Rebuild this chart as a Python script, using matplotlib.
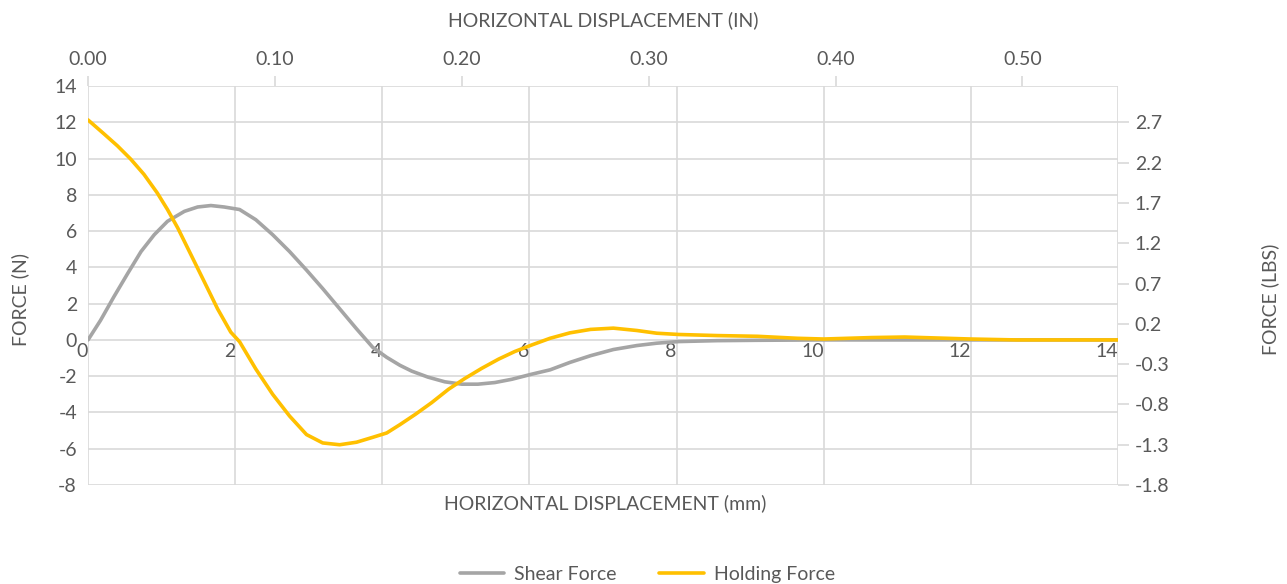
import matplotlib.pyplot as plt
import numpy as np

# values (displacement in mm, force in N)
shear_x = [0, 0.17, 0.35, 0.54, 0.72, 0.90, 1.08, 1.31, 1.49, 1.67, 1.85, 2.06,
           2.28, 2.51, 2.74, 2.97, 3.19, 3.42, 3.65, 3.87, 4.06, 4.24, 4.40,
           4.62, 4.85, 5.08, 5.30, 5.53, 5.76, 6.03, 6.28, 6.55, 6.83, 7.14,
           7.46, 7.73, 8.03, 8.55, 9.1, 10, 11, 12, 13, 14]
shear_y = [0, 1.08, 2.37, 3.67, 4.87, 5.8, 6.54, 7.09, 7.33, 7.41, 7.33, 7.19,
           6.63, 5.8, 4.87, 3.85, 2.83, 1.72, 0.61, -0.41, -0.96, -1.40, -1.72,
           -2.05, -2.31, -2.44, -2.44, -2.35, -2.17, -1.89, -1.65, -1.24, -0.87,
           -0.53, -0.31, -0.18, -0.09, -0.04, -0.02, 0, 0, 0, 0, 0]

hold_x = [0, 0.22, 0.40, 0.58, 0.76, 0.94, 1.08, 1.22, 1.40, 1.58, 1.76, 1.94,
          2.06, 2.28, 2.51, 2.74, 2.97, 3.19, 3.42, 3.65, 3.87, 4.06, 4.24,
          4.45, 4.67, 4.90, 5.12, 5.35, 5.58, 5.80, 6.03, 6.28, 6.55, 6.83,
          7.14, 7.46, 7.73, 8.03, 8.55, 9.1, 9.64, 10.0, 10.65, 11.1, 12.0,
          12.62, 14]
hold_y = [12.13, 11.35, 10.7, 9.97, 9.13, 8.11, 7.19, 6.17, 4.69, 3.21, 1.72,
          0.43, -0.1, -1.6, -3.0, -4.2, -5.22, -5.68, -5.78, -5.64,
          -5.37, -5.13, -4.67, -4.1, -3.46, -2.72, -2.13, -1.57, -1.06, -0.64,
          -0.28, 0.09, 0.39, 0.58, 0.65, 0.52, 0.37, 0.3, 0.24, 0.2, 0.09,
          0.05, 0.13, 0.16, 0.05, 0, 0]

mm_ticks = [0, 2, 4, 6, 8, 10, 12, 14]
in_ticks = [0.0, 0.1, 0.2, 0.3, 0.4, 0.5]
n_ticks = [14, 12, 10, 8, 6, 4, 2, 0, -2, -4, -6, -8]
lbs_ticks = [2.7, 2.2, 1.7, 1.2, 0.7, 0.2, -0.3, -0.8, -1.3, -1.8]

N_TO_LBS = 0.225
MM_PER_IN = 25.4

plt.rcParams['font.family'] = ['Lato', 'DejaVu Sans']
plt.rcParams['axes.unicode_minus'] = False
txt = '#595959'
grid_c = '#D9D9D9'

fig = plt.figure(figsize=(12.87, 5.84), dpi=100)
ax = fig.add_axes([0.0684, 0.1695, 0.8003, 0.6832])

ax.plot(shear_x, shear_y, color='#A5A5A5', lw=2.6, solid_capstyle='round',
        solid_joinstyle='round', label='Shear Force', zorder=3)
ax.plot(hold_x, hold_y, color='#FFC000', lw=2.6, solid_capstyle='round',
        solid_joinstyle='round', label='Holding Force', zorder=4)

ax.set_xlim(0, 14)
ax.set_ylim(-8, 14)
ax.set_xticks(mm_ticks)
ax.set_yticks(n_ticks)
ax.grid(True, color=grid_c, lw=1.2)
ax.set_axisbelow(True)
for s in ['top', 'right', 'left']:
    ax.spines[s].set_visible(False)
ax.spines['bottom'].set_position(('data', 0))
ax.spines['bottom'].set_visible(False)
ax.tick_params(axis='x', length=0, pad=2, labelsize=14, labelcolor=txt)
ax.tick_params(axis='y', length=0, pad=8, labelsize=14, labelcolor=txt)
for lbl in ax.get_xticklabels():
    lbl.set_horizontalalignment('right')

# top axis in inches
top = ax.secondary_xaxis('top', functions=(lambda x: x / MM_PER_IN,
                                           lambda x: x * MM_PER_IN))
top.set_xticks(in_ticks)
top.set_xticklabels([f"{t:.2f}" for t in in_ticks])
top.tick_params(length=7, color=grid_c, width=1.2, labelsize=14,
                labelcolor=txt, pad=6)
top.spines['top'].set_visible(False)
top.set_xlabel('HORIZONTAL DISPLACEMENT (IN)', fontsize=14, color=txt,
               labelpad=18)

# right axis in pounds
right = ax.secondary_yaxis('right', functions=(lambda y: y * N_TO_LBS,
                                               lambda y: y / N_TO_LBS))
right.set_yticks(lbs_ticks)
right.set_yticklabels([f"{t:.1f}" for t in lbs_ticks])
right.tick_params(length=8, color=grid_c, width=1.2, labelsize=14,
                  labelcolor=txt, pad=4)
right.spines['right'].set_visible(False)

fig.text(0.016, 0.487, 'FORCE (N)', rotation=90, fontsize=14, color=txt,
         ha='center', va='center')
fig.text(0.987, 0.487, 'FORCE (LBS)', rotation=90, fontsize=14, color=txt,
         ha='center', va='center')
fig.text(0.47, 0.138, 'HORIZONTAL DISPLACEMENT (mm)', fontsize=14, color=txt,
         ha='center', va='center')

leg = fig.legend(loc='lower center', bbox_to_anchor=(0.503, -0.028), ncol=2,
                 frameon=False, fontsize=14, handlelength=2.3,
                 columnspacing=2.2, handletextpad=0.5)
for t in leg.get_texts():
    t.set_color(txt)

plt.savefig('out.png', dpi=100)
